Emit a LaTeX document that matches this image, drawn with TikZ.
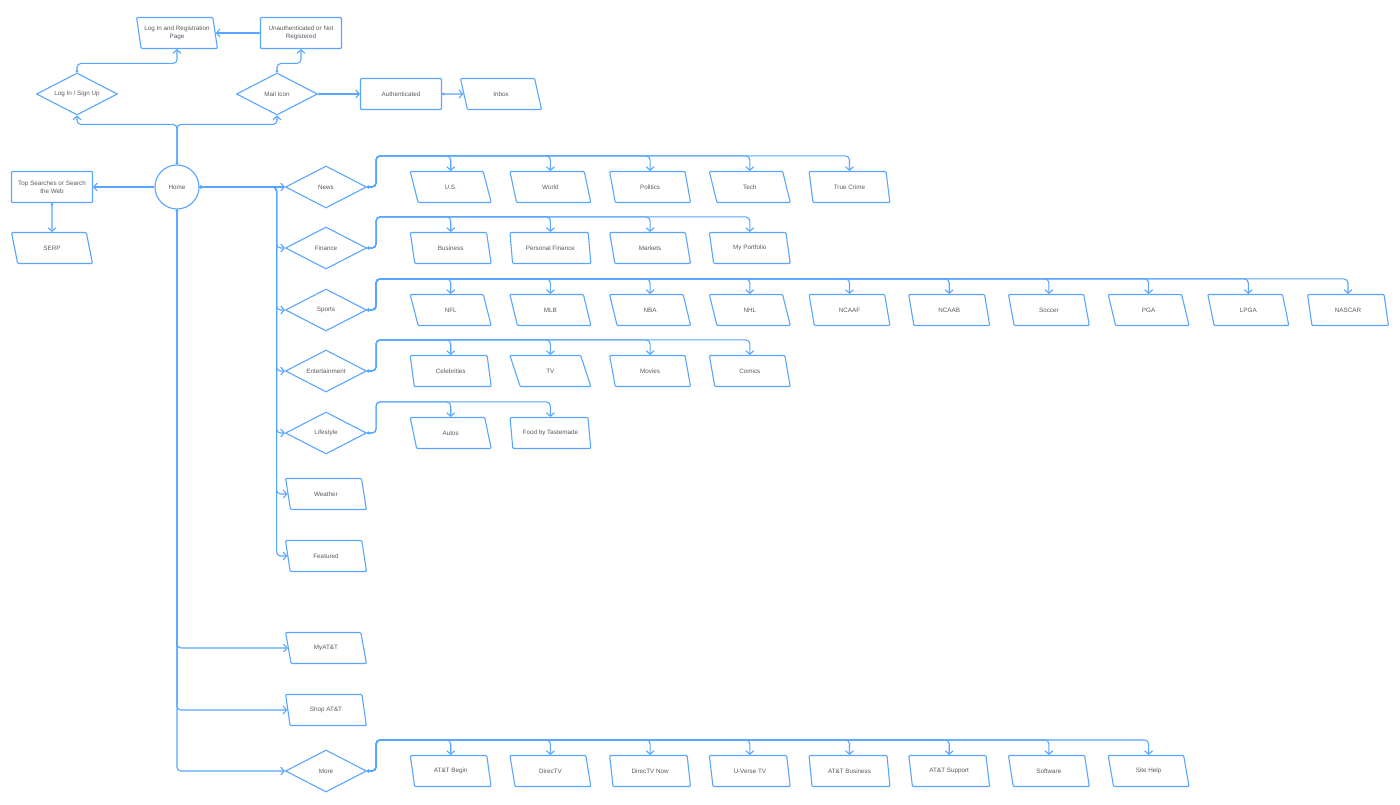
\documentclass[tikz,border=0pt]{standalone}
\usepackage{fontspec}
\setmainfont{Liberation Sans}
\usetikzlibrary{shapes.geometric,arrows.meta}
\definecolor{lineblue}{RGB}{88,166,255}
\definecolor{textgray}{RGB}{90,90,90}

\begin{document}
\begin{tikzpicture}[
            x=1pt, y=-1pt, % 1像素 = 1pt
            every node/.style={font=\fontsize{6.3}{8}\selectfont, text=textgray},
            base/.style={draw=lineblue, line width=1.1pt, minimum width=81pt, minimum height=31pt, inner sep=1pt, align=center},
            boxnode/.style={base, rectangle, rounded corners=1pt},
            pagenode/.style={base, trapezium, trapezium left angle=105, trapezium right angle=75, trapezium stretches=true, rounded corners=1pt},
            choice/.style={base, diamond, aspect=2, inner sep=0pt, minimum width=81pt, minimum height=42pt},
            hub/.style={base, circle, minimum size=44pt, minimum width=44pt},
            link/.style={draw=lineblue, line width=1.1pt, rounded corners=4pt, {Circle[length=2.5pt]}-{Straight Barb[length=3.5pt,width=8pt]}}
        ]
            \fill[white] (0,0) rectangle (1400,805);
            \useasboundingbox (0,0) rectangle (1400,805);

            % 顶部
            \node[hub] (home) at (177,187) {Home};
            \node[boxnode] (search) at (52,187) {Top Searches or Search\\the Web};
            \node[pagenode] (serp) at (52,248) {SERP};
            \node[choice] (login) at (77,94) {Log In / Sign Up};
            \node[choice] (mail) at (277,94) {Mail Icon};
            \node[pagenode] (regpage) at (177,33) {Log In and Registration\\Page};
            \node[boxnode] (unauth) at (301,33) {Unauthenticated or Not\\Registered};
            \node[boxnode] (auth) at (401,94) {Authenticated};
            \node[pagenode] (inbox) at (501,94) {Inbox};

            \draw[link] (home.north) -- ++(0,-40) -| (login.south);
            \draw[link] (home.north) -- ++(0,-40) -| (mail.south);
            \draw[link] (login.north) -- ++(0,-9) -| (regpage.south);
            \draw[link] (mail.north) -- ++(0,-9) -| (unauth.south);
            \draw[link] (unauth.west) -- (regpage.east);
            \draw[link] (mail.east) -- (auth.west);
            \draw[link] (auth.east) -- (inbox.west);
            \draw[link] (home.west) -- (search.east);
            \draw[link] (search.south) -- (serp.north);

            % 分类
            \node[choice] (news) at (326,187) {News};
            \node[choice] (finance) at (326,248) {Finance};
            \node[choice] (sports) at (326,310) {Sports};
            \node[choice] (entertainment) at (326,371) {Entertainment};
            \node[choice] (lifestyle) at (326,433) {Lifestyle};
            \node[pagenode] (weather) at (326,494) {Weather};
            \node[pagenode] (featured) at (326,556) {Featured};
            \node[pagenode] (myatt) at (326,648) {MyAT\&T};
            \node[pagenode] (shop) at (326,710) {Shop AT\&T};
            \node[choice] (more) at (326,771) {More};

            \draw[link] (home.east) -- (news.west);
            \foreach \cat in {finance, sports, entertainment, lifestyle, weather, featured}
                \draw[link] (home.east) -- ++(77,0) |- (\cat.west);
            \foreach \cat in {myatt, shop, more}
                \draw[link] (home.south) |- (\cat.west);

            % 子页面
            \foreach \cat/\items in {
                news/{U.S., World, Politics, Tech, True Crime},
                finance/{Business, Personal Finance, Markets, My Portfolio},
                sports/{NFL, MLB, NBA, NHL, NCAAF, NCAAB, Soccer, PGA, LPGA, NASCAR},
                entertainment/{Celebrities, TV, Movies, Comics},
                lifestyle/{Autos, Food by Tastemade},
                more/{AT\&T Begin, DirecTV, DirecTV Now, U-Verse TV, AT\&T Business, AT\&T Support, Software, Site Help}%
            }{
                \foreach \t [count=\i] in \items {
                    \node[pagenode] (\cat-\i) at ([xshift={25pt+99.7pt*\i}]\cat.center) {\t};
                    \draw[link] (\cat.east) -- ++(9,0) |- ([yshift=15pt]\cat-\i.north) -- (\cat-\i.north);
                }
            }
        \end{tikzpicture}
\end{document}
